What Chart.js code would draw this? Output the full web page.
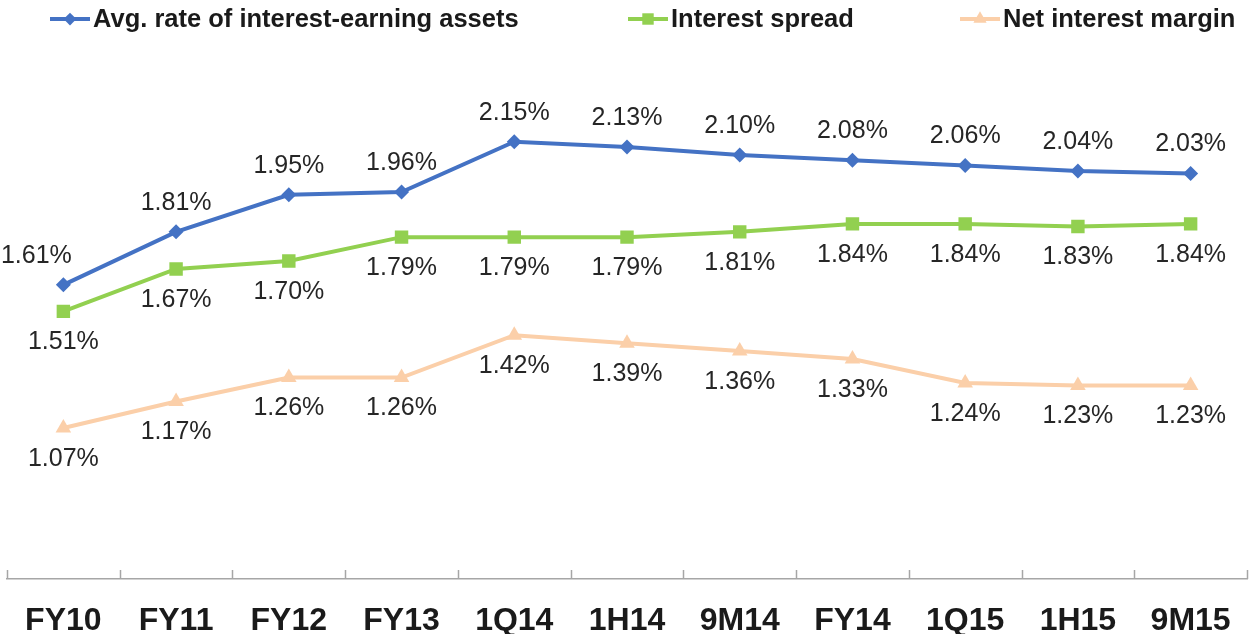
<!DOCTYPE html>
<html>
<head>
<meta charset="utf-8">
<script src="https://cdn.jsdelivr.net/npm/chart.js@4.4.1/dist/chart.umd.min.js"></script>
<style>
  html, body { margin: 0; padding: 0; background: #fff; overflow: hidden; }
</style>
</head>
<body>
<canvas id="myChart" width="1249" height="634"></canvas>
<script>
let categories = ["FY10", "FY11", "FY12", "FY13", "1Q14", "1H14", "9M14", "FY14", "1Q15", "1H15", "9M15"];
let avgRate = [1.61, 1.81, 1.95, 1.96, 2.15, 2.13, 2.10, 2.08, 2.06, 2.04, 2.03];
let spread = [1.51, 1.67, 1.70, 1.79, 1.79, 1.79, 1.81, 1.84, 1.84, 1.83, 1.84];
let margin = [1.07, 1.17, 1.26, 1.26, 1.42, 1.39, 1.36, 1.33, 1.24, 1.23, 1.23];

// value labels above / below each point
let pointLabels = {
    id: 'pointLabels',
    afterDatasetsDraw(chart) {
        let ctx = chart.ctx;
        ctx.save();
        ctx.font = '25px "Liberation Sans", Arial, sans-serif';
        ctx.fillStyle = '#262626';
        ctx.textAlign = 'center';
        ctx.textBaseline = 'middle';
        chart.data.datasets.forEach((ds, i) => {
            chart.getDatasetMeta(i).data.forEach((pt, j) => {
                let dx = (j === 0 && ds.firstLabelShift) ? ds.firstLabelShift : 0;
                ctx.fillText(ds.data[j].toFixed(2) + '%', pt.x + dx, pt.y + ds.labelOffset);
            });
        });
        ctx.restore();
    }
};

// small tick marks standing on the category axis
let axisTicks = {
    id: 'axisTicks',
    afterDraw(chart) {
        let x = chart.scales.x, ctx = chart.ctx;
        let n = chart.data.labels.length, step = x.width / n;
        ctx.save();
        ctx.strokeStyle = '#a6a6a6';
        ctx.lineWidth = 1.5;
        ctx.beginPath();
        for (let i = 0; i <= n; i++) {
            let px = Math.round(x.left + i * step) + 0.5;
            ctx.moveTo(px, x.top - 9);
            ctx.lineTo(px, x.top);
        }
        ctx.stroke();
        ctx.restore();
    }
};

// Excel-like legend across the top
let topLegend = {
    id: 'topLegend',
    afterDraw(chart) {
        let ctx = chart.ctx;
        let xs = [50, 628, 960];
        let y = 19;
        ctx.save();
        chart.data.datasets.forEach((ds, i) => {
            let x0 = xs[i];
            ctx.strokeStyle = ds.borderColor;
            ctx.lineWidth = 4;
            ctx.beginPath();
            ctx.moveTo(x0, y);
            ctx.lineTo(x0 + 40, y);
            ctx.stroke();
            ctx.fillStyle = ds.backgroundColor;
            Chart.helpers.drawPoint(ctx, {
                pointStyle: ds.pointStyle, radius: ds.pointRadius * 0.85, borderWidth: 0
            }, x0 + 20, y);
            ctx.font = 'bold 25.5px "Liberation Sans", Arial, sans-serif';
            ctx.fillStyle = '#1a1a1a';
            ctx.textAlign = 'left';
            ctx.textBaseline = 'middle';
            ctx.fillText(ds.label, x0 + 43, y + 1);
        });
        ctx.restore();
    }
};

let ctx = document.getElementById("myChart").getContext('2d');

let myChart = new Chart(ctx, {
    type: 'line',
    data: {
        labels: categories,
        datasets: [{
            label: 'Avg. rate of interest-earning assets',
            data: avgRate,
            borderColor: '#4472c4',
            backgroundColor: '#4472c4',
            borderWidth: 4,
            pointStyle: 'rectRot',
            pointRadius: 7.5,
            pointBorderWidth: 0,
            labelOffset: -29,
            firstLabelShift: -27
        }, {
            label: 'Interest spread',
            data: spread,
            borderColor: '#92d050',
            backgroundColor: '#92d050',
            borderWidth: 4,
            pointStyle: 'rect',
            pointRadius: 9.5,
            pointBorderWidth: 0,
            labelOffset: 31
        }, {
            label: 'Net interest margin',
            data: margin,
            borderColor: '#fbcfa9',
            backgroundColor: '#fbcfa9',
            borderWidth: 4,
            pointStyle: 'triangle',
            pointRadius: 9,
            pointBorderWidth: 0,
            labelOffset: 31
        }]
    },
    options: {
        responsive: false,
        maintainAspectRatio: false,
        animation: false,
        layout: { autoPadding: false, padding: { top: 102, left: 7, right: 2, bottom: -29 } },
        plugins: {
            legend: { display: false },
            tooltip: { enabled: false }
        },
        scales: {
            x: {
                offset: true,
                grid: { display: true, drawOnChartArea: false, drawTicks: false, offset: true },
                border: { color: '#a6a6a6', width: 1.5 },
                ticks: {
                    padding: 18,
                    autoSkip: false,
                    maxRotation: 0,
                    color: '#1a1a1a',
                    font: { family: '"Liberation Sans", Arial, sans-serif', size: 32, weight: 'bold', lineHeight: 1.5 }
                }
            },
            y: {
                display: false,
                min: 0.5,
                max: 2.3
            }
        }
    },
    plugins: [pointLabels, axisTicks, topLegend]
});
</script>
</body>
</html>
